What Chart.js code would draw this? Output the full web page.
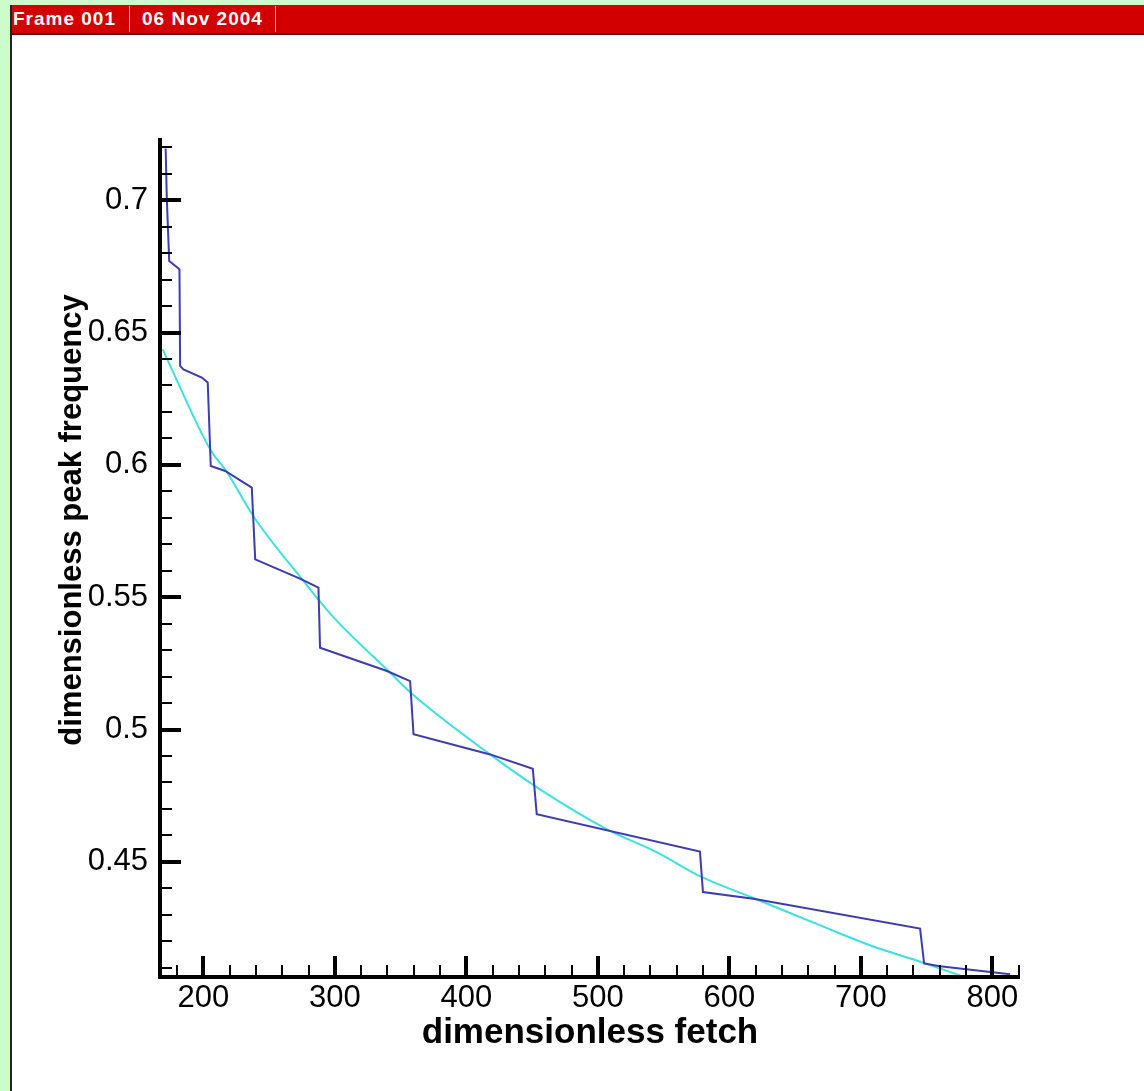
<!DOCTYPE html>
<html>
<head>
<meta charset="utf-8">
<script src="https://cdn.jsdelivr.net/npm/chart.js@4.4.0/dist/chart.umd.min.js"></script>
<style>
    body { margin: 0; width: 1144px; height: 1091px; overflow: hidden; position: relative; background: #ccfccc; font-family: 'Liberation Sans', Arial, sans-serif; }
    #panel { position: absolute; left: 10px; top: 5px; right: 0; bottom: 0; background: #fff; border-left: 2px solid #222; }
    #bar { position: absolute; left: 12px; top: 5px; right: 0; height: 28px; background: #d30000; border-bottom: 2px solid #5a0000; z-index: 2; }
    #bar span { position: absolute; top: 4px; color: #fff; font-weight: bold; font-size: 19px; letter-spacing: 1px; line-height: 20px; }
    #bar i { position: absolute; top: 1px; width: 1px; height: 26px; background: #f3c0c0; }
    #wrap { position: absolute; left: 0; top: 0; width: 1144px; height: 1091px; z-index: 1; }
</style>
</head>
<body>
<div id="panel"></div>
<div id="bar">
    <span style="left:1px">Frame 001</span>
    <i style="left:117px"></i>
    <span style="left:130px">06 Nov 2004</span>
    <i style="left:263px"></i>
</div>
<div id="wrap"><canvas id="plot" width="1144" height="1091"></canvas></div>
<script>
// stepped model output
const blueX = [171.3, 172.2, 174, 181.8, 182.3, 184.8, 198.8, 203.3, 205.6, 216.6, 236.8, 239.4, 273.4, 287.5, 288.7, 339.6, 357.2, 359.8, 418.1, 450.5, 453.5, 577.6, 579.9, 618.3, 745, 748.1, 760.2, 813.5];
const blueY = [0.7195, 0.7004, 0.677, 0.6739, 0.6374, 0.6361, 0.633, 0.6311, 0.5996, 0.5977, 0.5914, 0.5643, 0.557, 0.5536, 0.5309, 0.5221, 0.5183, 0.4982, 0.4906, 0.4852, 0.468, 0.4539, 0.4386, 0.4361, 0.4248, 0.4116, 0.4106, 0.4075];

// smooth fit curve
const cyanX = [169, 176, 205, 218, 238, 275, 299, 341, 359, 418, 456, 507, 545, 578, 621, 671, 709, 747, 778];
const cyanY = [0.6437, 0.6361, 0.606, 0.5972, 0.5806, 0.5568, 0.5424, 0.522, 0.5133, 0.4906, 0.4774, 0.4623, 0.4536, 0.4445, 0.4358, 0.4256, 0.4181, 0.412, 0.4066];

const xTicks = [200, 300, 400, 500, 600, 700, 800];
const yTicks = [0.45, 0.5, 0.55, 0.6, 0.65, 0.7];
const yTickLabels = ['0.45', '0.5', '0.55', '0.6', '0.65', '0.7'];
const xMinorStep = 20;
const yMinorStep = 0.01;

const FONT = "'Liberation Sans', Arial, sans-serif";

function toPoints(xs, ys) {
    return xs.map((x, i) => ({ x: x, y: ys[i] }));
}

// axes drawn like the original: thick lines, ticks pointing inward
const axesPlugin = {
    id: 'axesPlugin',
    afterDatasetsDraw(chart) {
        const ctx = chart.ctx;
        const xs = chart.scales.x;
        const ys = chart.scales.y;
        const area = chart.chartArea;
        ctx.save();
        ctx.strokeStyle = '#000';
        ctx.lineCap = 'butt';

        // minor ticks
        ctx.lineWidth = 2;
        for (let v = Math.ceil(xs.min / xMinorStep) * xMinorStep; v <= xs.max; v += xMinorStep) {
            if (xTicks.includes(v)) continue;
            const px = Math.round(xs.getPixelForValue(v));
            ctx.beginPath();
            ctx.moveTo(px, area.bottom);
            ctx.lineTo(px, area.bottom - 12);
            ctx.stroke();
        }
        for (let k = Math.ceil(ys.min / yMinorStep); k * yMinorStep <= ys.max; k++) {
            const v = k * yMinorStep;
            if (yTicks.some(t => Math.abs(t - v) < 1e-6)) continue;
            const py = Math.round(ys.getPixelForValue(v));
            ctx.beginPath();
            ctx.moveTo(area.left, py);
            ctx.lineTo(area.left + 12, py);
            ctx.stroke();
        }

        // major ticks
        ctx.lineWidth = 4;
        xTicks.forEach(v => {
            const px = Math.round(xs.getPixelForValue(v));
            ctx.beginPath();
            ctx.moveTo(px, area.bottom);
            ctx.lineTo(px, area.bottom - 21);
            ctx.stroke();
        });
        yTicks.forEach(v => {
            const py = Math.round(ys.getPixelForValue(v));
            ctx.beginPath();
            ctx.moveTo(area.left, py);
            ctx.lineTo(area.left + 21, py);
            ctx.stroke();
        });

        // axis lines
        ctx.lineWidth = 4;
        ctx.beginPath();
        ctx.moveTo(area.left, area.top);
        ctx.lineTo(area.left, area.bottom);
        ctx.lineTo(area.right, area.bottom);
        ctx.stroke();

        // y title (sits above the axis centre in the original)
        ctx.fillStyle = '#000';
        ctx.font = 'bold 31px ' + FONT;
        ctx.textAlign = 'center';
        ctx.textBaseline = 'middle';
        ctx.translate(72, 520);
        ctx.rotate(-Math.PI / 2);
        ctx.fillText('dimensionless peak frequency', 0, 0);
        ctx.restore();
    }
};

const ctx = document.getElementById('plot').getContext('2d');
new Chart(ctx, {
    type: 'line',
    data: {
        datasets: [{
            label: 'model',
            data: toPoints(blueX, blueY),
            borderColor: '#3c3cb4',
            borderWidth: 2,
            pointRadius: 0,
            tension: 0,
            fill: false,
            order: 0
        }, {
            label: 'fit',
            data: toPoints(cyanX, cyanY),
            borderColor: '#3ee0e0',
            borderWidth: 2,
            pointRadius: 0,
            cubicInterpolationMode: 'monotone',
            fill: false,
            order: 1
        }]
    },
    options: {
        responsive: false,
        animation: false,
        devicePixelRatio: 1,
        layout: {
            padding: { left: 0, top: 138, right: 124, bottom: 0 }
        },
        plugins: {
            legend: { display: false },
            tooltip: { enabled: false }
        },
        scales: {
            x: {
                type: 'linear',
                min: 167,
                max: 821,
                afterFit: scale => { scale.height = 114; },
                afterBuildTicks: scale => { scale.ticks = xTicks.map(v => ({ value: v })); },
                grid: { display: false, drawTicks: false },
                border: { display: false },
                ticks: {
                    color: '#000',
                    padding: 3,
                    maxRotation: 0,
                    autoSkip: false,
                    font: { family: FONT, size: 31 },
                    callback: v => String(v)
                },
                title: {
                    display: true,
                    text: 'dimensionless fetch',
                    color: '#000',
                    font: { family: FONT, size: 35, weight: 'bold' },
                    padding: { top: 0, bottom: 37 }
                }
            },
            y: {
                type: 'linear',
                min: 0.4065,
                max: 0.7235,
                afterFit: scale => { scale.width = 160; },
                afterBuildTicks: scale => { scale.ticks = yTicks.map(v => ({ value: v })); },
                grid: { display: false, drawTicks: false },
                border: { display: false },
                ticks: {
                    color: '#000',
                    padding: 12,
                    autoSkip: false,
                    font: { family: FONT, size: 31 },
                    callback: (v, i) => yTickLabels[i]
                }
            }
        }
    },
    plugins: [axesPlugin]
});
</script>
</body>
</html>
